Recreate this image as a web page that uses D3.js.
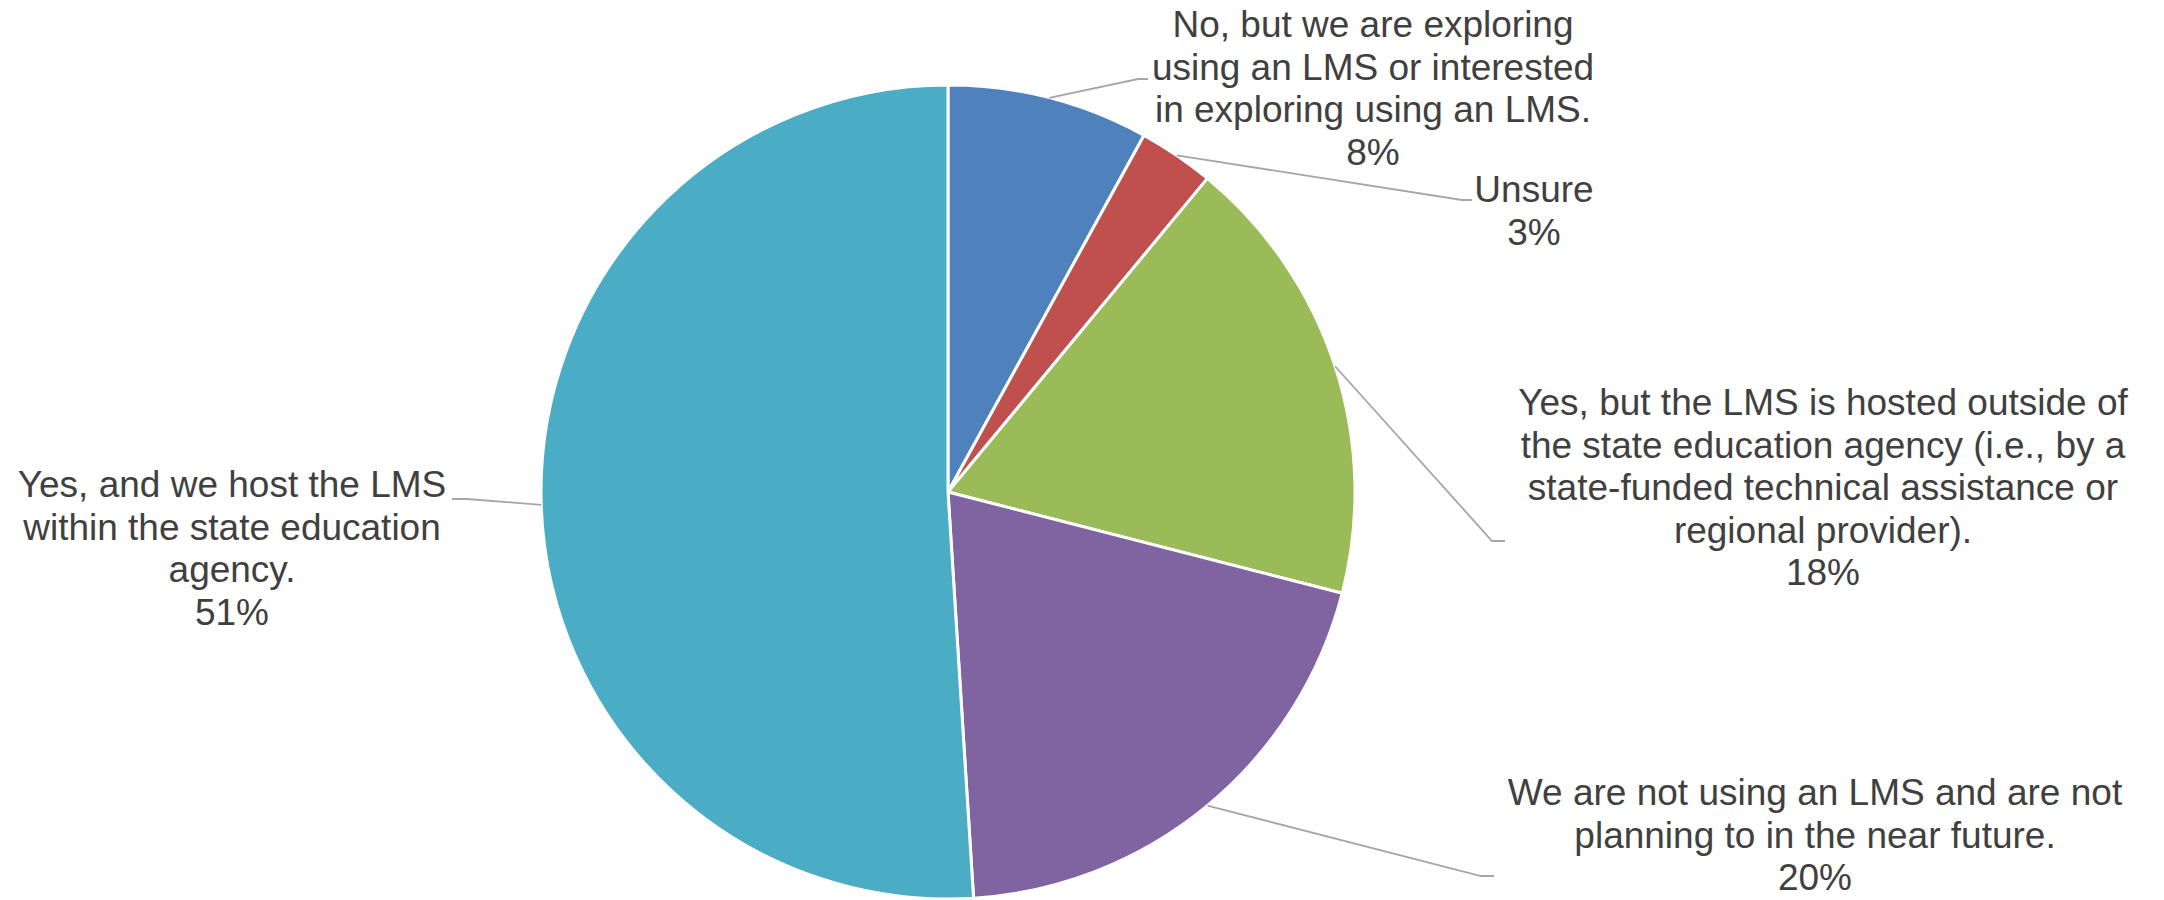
<!DOCTYPE html>
<html>
<head>
<meta charset="utf-8">
<script src="https://cdn.jsdelivr.net/npm/d3@7"></script>
<style>
  html, body { margin: 0; padding: 0; background: #ffffff; }
  svg { display: block; }
</style>
</head>
<body>
<svg id="chart" width="2164" height="900"></svg>
<script>
// Survey responses: does the state education agency use an LMS?
const categories = [
  "No, but we are exploring\nusing an LMS or interested\nin exploring using an LMS.",
  "Unsure",
  "Yes, but the LMS is hosted outside of\nthe state education agency (i.e., by a\nstate-funded technical assistance or\nregional provider).",
  "We are not using an LMS and are not\nplanning to in the near future.",
  "Yes, and we host the LMS\nwithin the state education\nagency."
];
const shares = [8, 3, 18, 20, 51];
const sliceColors = ["#4F81BD", "#C0504D", "#9BBB59", "#8064A2", "#4BACC6"];

// Label placement: text centre/first baseline, elbow of the leader line, and where it meets the text.
const labelLayout = [
  { cx: 1373, y: 37,  elbow: [1138, 79],  end: [1148, 79] },
  { cx: 1534, y: 202, elbow: [1462, 200], end: [1472, 200] },
  { cx: 1823, y: 415, elbow: [1492, 541], end: [1505, 541] },
  { cx: 1815, y: 805, elbow: [1481, 876], end: [1494, 876] },
  { cx: 232,  y: 497, elbow: [467, 499],  end: [452, 499] }
];

const W = 2164, H = 900;
const cx = 948, cy = 492, radius = 407;
const lineStep = 42.5;

const svg = d3.select("#chart");

const rows = categories.map((c, i) => ({ name: c, value: shares[i], color: sliceColors[i], layout: labelLayout[i] }));

const pie = d3.pie().sort(null).value(d => d.value).startAngle(0).endAngle(2 * Math.PI);
const arcs = pie(rows);
const arc = d3.arc().innerRadius(0).outerRadius(radius);

const g = svg.append("g").attr("transform", `translate(${cx},${cy})`);

g.selectAll("path.slice")
  .data(arcs)
  .join("path")
  .attr("class", "slice")
  .attr("d", arc)
  .attr("fill", d => d.data.color)
  .attr("stroke", "#ffffff")
  .attr("stroke-width", 3)
  .attr("stroke-linejoin", "round");

// Leader lines from the middle of each slice's rim to its label
const leaders = svg.append("g");
arcs.forEach(a => {
  const mid = (a.startAngle + a.endAngle) / 2;
  const sx = cx + radius * Math.sin(mid);
  const sy = cy - radius * Math.cos(mid);
  const L = a.data.layout;
  leaders.append("polyline")
    .attr("points", [[sx, sy], L.elbow, L.end].map(p => p.join(",")).join(" "))
    .attr("fill", "none")
    .attr("stroke", "#A6A6A6")
    .attr("stroke-width", 1.8);
});

// Category labels with percentage on the last line
const fmt = v => d3.format(".0f")(v) + "%";
const labels = svg.append("g")
  .attr("font-family", "'Liberation Sans', Arial, Helvetica, sans-serif")
  .attr("font-size", 37)
  .attr("fill", "#404040")
  .attr("text-anchor", "middle");

arcs.forEach(a => {
  const L = a.data.layout;
  const lines = a.data.name.split("\n").concat([fmt(a.data.value)]);
  const t = labels.append("text").attr("x", L.cx).attr("y", L.y);
  lines.forEach((ln, k) => {
    t.append("tspan")
      .attr("x", L.cx)
      .attr("y", L.y + k * lineStep)
      .text(ln);
  });
});
</script>
</body>
</html>
